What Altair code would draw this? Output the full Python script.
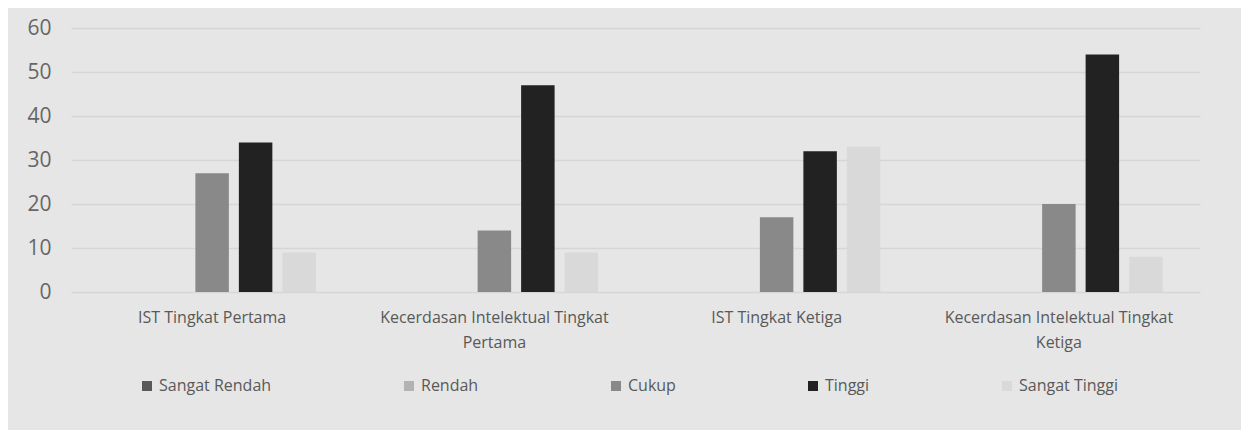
import altair as alt
import pandas as pd

categories = [
    "IST Tingkat Pertama",
    "Kecerdasan Intelektual Tingkat Pertama",
    "IST Tingkat Ketiga",
    "Kecerdasan Intelektual Tingkat Ketiga",
]
series = ["Sangat Rendah", "Rendah", "Cukup", "Tinggi", "Sangat Tinggi"]
sangat_rendah = [0, 0, 0, 0]
rendah = [0, 0, 0, 0]
cukup = [27, 14, 17, 20]
tinggi = [34, 47, 32, 54]
sangat_tinggi = [9, 9, 33, 8]
colors = ["#595959", "#b3b3b3", "#898989", "#222222", "#d9d9d9"]

values = [sangat_rendah, rendah, cukup, tinggi, sangat_tinggi]
rows = []
for s, vals in zip(series, values):
    for c, v in zip(categories, vals):
        rows.append({"Kategori": c, "Seri": s, "Nilai": v})
df = pd.DataFrame(rows)

font = "Open Sans"
label_expr = (
    "length(datum.value) > 25 ? "
    "[substring(datum.value, 0, lastindexof(datum.value, ' ')), "
    "substring(datum.value, lastindexof(datum.value, ' ') + 1)] : datum.value"
)

chart = (
    alt.Chart(df)
    .mark_bar()
    .encode(
        x=alt.X(
            "Kategori:N",
            sort=categories,
            scale=alt.Scale(paddingInner=0, paddingOuter=0),
            axis=alt.Axis(
                title=None,
                labelAngle=0,
                labelExpr=label_expr,
                labelFont=font,
                labelFontSize=16,
                labelColor="#595959",
                labelLineHeight=25,
                labelPadding=17,
                labelLimit=0,
                ticks=False,
                domain=False,
                grid=False,
            ),
        ),
        xOffset=alt.XOffset(
            "Seri:N",
            sort=series,
            scale=alt.Scale(domain=series, paddingInner=0.23, paddingOuter=0.86),
        ),
        y=alt.Y(
            "Nilai:Q",
            scale=alt.Scale(domain=[0, 60], nice=False),
            axis=alt.Axis(
                title=None,
                values=[0, 10, 20, 30, 40, 50, 60],
                labelFont=font,
                labelFontSize=21,
                labelColor="#666666",
                labelPadding=20,
                ticks=False,
                domain=False,
                grid=True,
                gridColor="#d6d6d6",
                gridWidth=1.5,
            ),
        ),
        color=alt.Color(
            "Seri:N",
            sort=series,
            scale=alt.Scale(domain=series, range=colors),
            legend=alt.Legend(
                title=None,
                orient="none",
                legendX=68,
                legendY=350,
                direction="horizontal",
                columns=5,
                columnPadding=129,
                padding=0,
                symbolType="square",
                symbolSize=100,
                symbolStrokeWidth=0,
                labelOffset=4,
                labelFont=font,
                labelFontSize=16,
                labelColor="#595959",
            ),
        ),
    )
    .properties(
        width=1129,
        height=264,
        background="#e6e6e6",
        autosize=alt.AutoSizeParams(type="none"),
        padding={"left": 63, "top": 20, "right": 41, "bottom": 138},
    )
    .configure_view(stroke=None)
)

chart.save("out.html", embed_options={"renderer": "svg", "actions": False})
